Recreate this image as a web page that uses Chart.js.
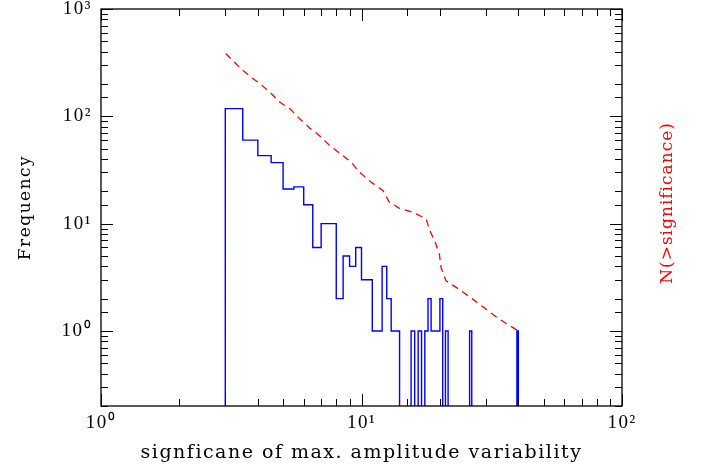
<!DOCTYPE html>
<html lang="en">
<head>
<meta charset="UTF-8">
<title>Significance of max. amplitude variability</title>
<script src="https://cdn.jsdelivr.net/npm/chart.js"></script>
<style>
  html, body { margin: 0; padding: 0; background: #fff; }
  #wrap { width: 701px; height: 468px; }
</style>
</head>
<body>
<div id="wrap"><canvas id="sigChart" width="701" height="468"></canvas></div>
<script>
// histogram: left edge of every 0.5-wide bin and its count
const binLeft = [3, 3.5, 4, 4.5, 5, 5.5, 6, 6.5, 7, 7.5,
                 8, 8.5, 9, 9.5, 10, 10.5, 11, 11.5, 12, 12.5,
                 13, 13.5, 14, 14.5, 15, 15.5, 16, 16.5, 17, 17.5,
                 18, 18.5, 19, 19.5, 20, 20.5, 21, 21.5, 22, 22.5,
                 23, 23.5, 24, 24.5, 25, 25.5, 26, 26.5, 27, 27.5,
                 28, 28.5, 29, 29.5, 30, 30.5, 31, 31.5, 32, 32.5,
                 33, 33.5, 34, 34.5, 35, 35.5, 36, 36.5, 37, 37.5,
                 38, 38.5, 39, 39.5];
const binCount = [118, 60, 43, 37, 21, 22, 15, 6, 10, 10,
                  2, 5, 4, 6, 3, 3, 1, 1, 4, 2,
                  1, 1, 0, 0, 0, 1, 0, 1, 0, 1,
                  2, 1, 1, 1, 2, 0, 1, 0, 0, 0,
                  0, 0, 0, 0, 0, 0, 1, 0, 0, 0,
                  0, 0, 0, 0, 0, 0, 0, 0, 0, 0,
                  0, 0, 0, 0, 0, 0, 0, 0, 0, 0,
                  0, 0, 0, 1];
const binEnd = 40;

// cumulative curve N(>significance)
const cumX = [3.01, 3.41, 3.72, 4.07, 4.44, 4.85, 5.30, 5.79, 6.32, 6.90,
              7.54, 8.24, 9.13, 9.82, 10.9, 12.1, 12.8, 14.0, 15.7, 17.7,
              18.2, 19.3, 19.9, 20.2, 21.1, 23.7, 26.7, 30.0, 33.8, 40];
const cumY = [385, 285, 237, 202, 169, 136, 118, 95, 78, 66,
              53.6, 45.4, 37.4, 30.2, 24.3, 20.3, 15.8, 13.9, 12.8, 11.1,
              8.9, 6.46, 5.2, 3.9, 2.93, 2.45, 1.98, 1.60, 1.29, 1.0];

// axes
const xMajorTicks = [1, 10, 100];
const xTickLabels = ['10⁰', '10¹', '10²'];
const yMajorTicks = [1, 10, 100, 1000];
const yTickLabels = ['10⁰', '10¹', '10²', '10³'];

const emptyLevel = 0.01; // empty bins drop below the axis and get clipped

function majorIndex(list, v) {
  return list.findIndex(m => Math.abs(m - v) / m < 1e-6);
}

// histogram outline as a stepped line
const histPoints = [{ x: binLeft[0], y: emptyLevel }];
binLeft.forEach((b, i) => {
  histPoints.push({ x: b, y: binCount[i] > 0 ? binCount[i] : emptyLevel });
});
histPoints.push({ x: binEnd, y: binCount[binCount.length - 1] || emptyLevel });
histPoints.push({ x: binEnd, y: emptyLevel });

const cumPoints = cumX.map((x, i) => ({ x: x, y: cumY[i] }));

// frame with inward ticks on all four sides, plus the red right-hand title
const framePlugin = {
  id: 'frame',
  beforeDraw(chart) {
    chart.ctx.letterSpacing = '1.5px';
  },
  afterDraw(chart) {
    const { ctx, chartArea: a, scales } = chart;
    const x = scales.x, y = scales.y;
    ctx.save();
    ctx.strokeStyle = '#000';
    ctx.lineWidth = 1.3;
    ctx.strokeRect(a.left, a.top, a.right - a.left, a.bottom - a.top);
    ctx.lineWidth = 1;
    ctx.beginPath();
    x.ticks.forEach(t => {
      const px = Math.round(x.getPixelForValue(t.value)) + 0.5;
      const len = majorIndex(xMajorTicks, t.value) >= 0 ? 12 : 7;
      ctx.moveTo(px, a.bottom); ctx.lineTo(px, a.bottom - len);
      ctx.moveTo(px, a.top); ctx.lineTo(px, a.top + len);
    });
    y.ticks.forEach(t => {
      const py = Math.round(y.getPixelForValue(t.value)) + 0.5;
      const len = majorIndex(yMajorTicks, t.value) >= 0 ? 12 : 7;
      ctx.moveTo(a.left, py); ctx.lineTo(a.left + len, py);
      ctx.moveTo(a.right, py); ctx.lineTo(a.right - len, py);
    });
    ctx.stroke();

    ctx.letterSpacing = '1px';
    ctx.fillStyle = '#ff0000';
    ctx.font = '17px "DejaVu Serif"';
    ctx.textAlign = 'center';
    ctx.textBaseline = 'middle';
    ctx.translate(668, 203);
    ctx.rotate(-Math.PI / 2);
    ctx.fillText('N(>significance)', 0, 0);
    ctx.restore();
    ctx.letterSpacing = '0px';
  }
};

function noEdgePadding(s) {
  s.paddingTop = 0;
  s.paddingBottom = 0;
  s.paddingLeft = 0;
  s.paddingRight = 0;
}

const ctx = document.getElementById('sigChart').getContext('2d');
const sigChart = new Chart(ctx, {
  type: 'line',
  data: {
    datasets: [
      {
        label: 'Frequency',
        data: histPoints,
        stepped: true,
        borderColor: '#0000ff',
        borderWidth: 1.4,
        pointRadius: 0,
        fill: false
      },
      {
        label: 'N(>significance)',
        data: cumPoints,
        borderColor: '#ff0000',
        borderWidth: 1.3,
        borderDash: [7, 5],
        pointRadius: 0,
        tension: 0,
        fill: false
      }
    ]
  },
  options: {
    responsive: false,
    animation: false,
    devicePixelRatio: 1,
    layout: { padding: { top: 9, left: 0, right: 0, bottom: 0 } },
    plugins: {
      legend: { display: false },
      tooltip: { enabled: false }
    },
    scales: {
      x: {
        type: 'logarithmic',
        min: 1,
        max: 100,
        grid: { display: false, drawTicks: false },
        border: { display: false },
        ticks: {
          autoSkip: false,
          maxRotation: 0,
          padding: 6,
          color: '#000',
          font: { family: 'Liberation Serif', size: 19 },
          callback: v => {
            const i = majorIndex(xMajorTicks, v);
            return i >= 0 ? xTickLabels[i] : '';
          }
        },
        title: {
          display: true,
          text: 'signficane of max. amplitude variability',
          color: '#000',
          font: { family: 'DejaVu Serif', size: 19, weight: 'normal' },
          padding: { top: 4, bottom: 4 }
        },
        afterFit: s => { s.height = 62; noEdgePadding(s); }
      },
      y: {
        type: 'logarithmic',
        min: 0.2,
        max: 1000,
        grid: { display: false, drawTicks: false },
        border: { display: false },
        ticks: {
          autoSkip: false,
          padding: 9,
          color: '#000',
          font: { family: 'Liberation Serif', size: 19 },
          callback: v => {
            const i = majorIndex(yMajorTicks, v);
            return i >= 0 ? yTickLabels[i] : '';
          }
        },
        title: {
          display: true,
          text: 'Frequency',
          color: '#000',
          font: { family: 'DejaVu Serif', size: 17, weight: 'normal' },
          padding: { top: 15, bottom: 15 }
        },
        afterFit: s => { s.width = 101; noEdgePadding(s); }
      },
      y2: {
        type: 'logarithmic',
        position: 'right',
        min: 0.2,
        max: 1000,
        grid: { display: false, drawTicks: false },
        border: { display: false },
        ticks: { display: false },
        afterFit: s => { s.width = 79; noEdgePadding(s); }
      }
    }
  },
  plugins: [framePlugin]
});
</script>
</body>
</html>
